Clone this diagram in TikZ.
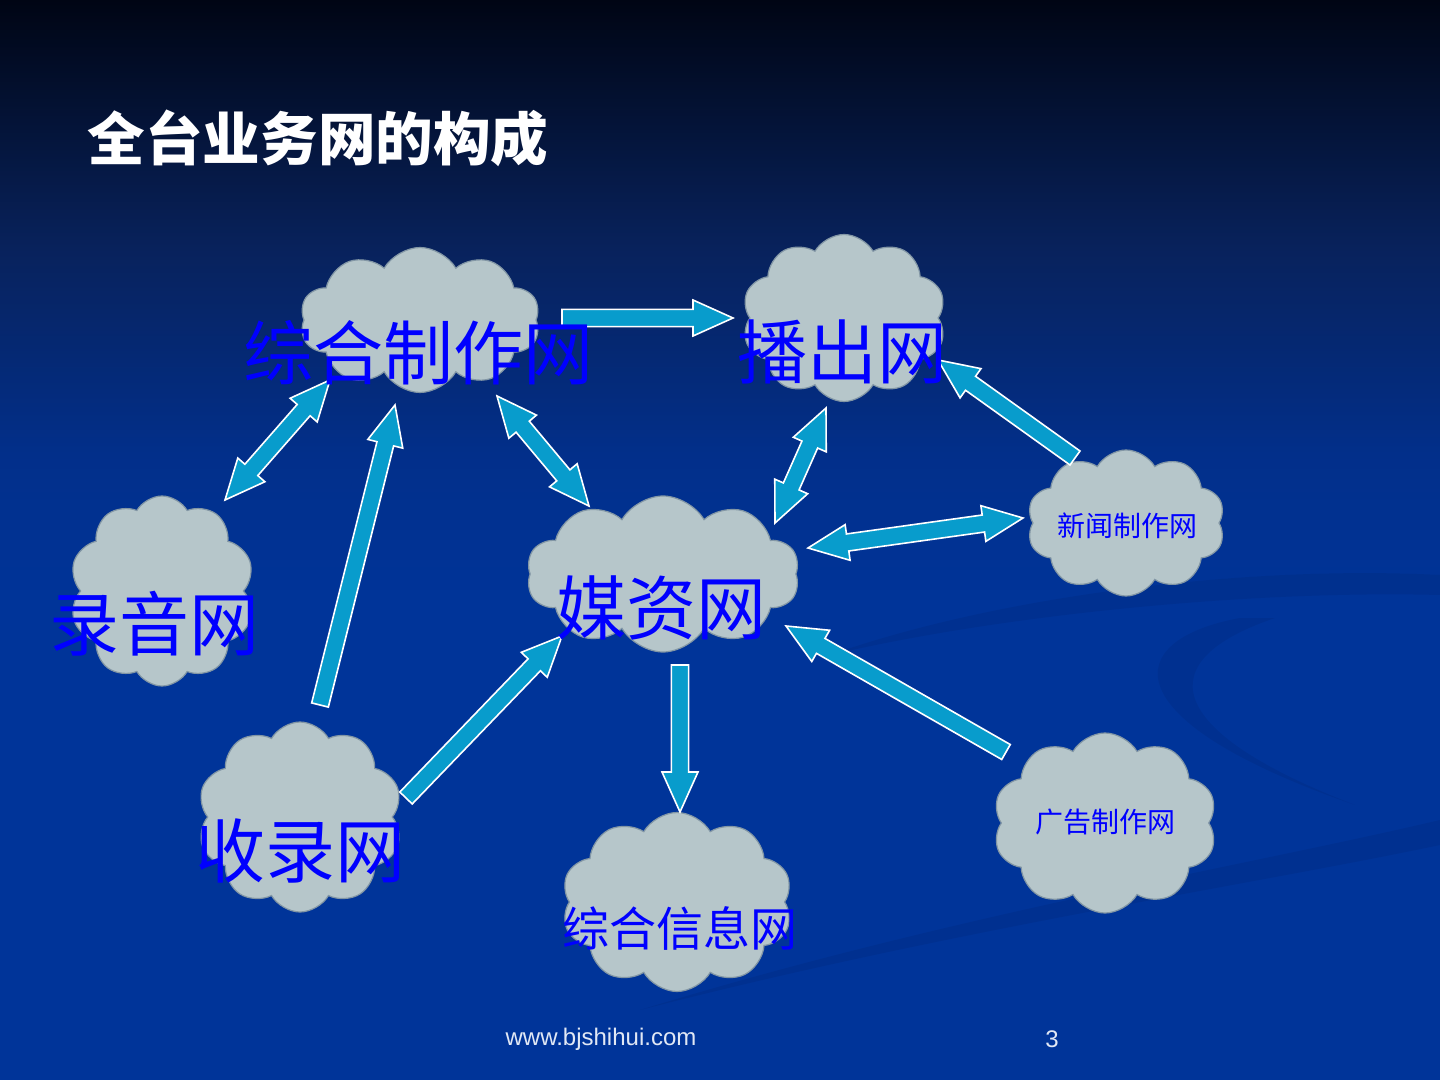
\documentclass[tikz,border=0pt]{standalone}
\usepackage{fontspec}
\setmainfont{Liberation Sans}
\newfontfamily\cjk{Noto Sans CJK SC}
\usetikzlibrary{calc,shapes.symbols}
\definecolor{bgA}{RGB}{0,5,20}
\definecolor{bgB}{RGB}{8,34,92}
\definecolor{bgC}{RGB}{2,47,138}
\definecolor{bgD}{RGB}{0,52,153}
\definecolor{cloudfill}{RGB}{182,198,202}
\definecolor{cloudline}{RGB}{130,150,165}
\definecolor{arrowblue}{RGB}{8,156,204}
\definecolor{labelblue}{RGB}{0,0,255}
\definecolor{foot}{RGB}{225,232,245}
\pgfdeclareverticalshading{slidebg}{100bp}{color(0bp)=(bgD); color(25bp)=(bgD); color(47bp)=(bgD); color(54bp)=(bgC); color(63.5bp)=(bgB); color(75bp)=(bgA); color(100bp)=(bgA)}
\def\sw{4.3pt}
\def\hw{9pt}
\def\hl{20pt}
\tikzset{
  cloudnode/.style={cloud, cloud puffs=10, cloud puff arc=120, cloud ignores aspect,
    fill=cloudfill, draw=cloudline, line width=0.6pt, inner sep=0pt},
  biglabel/.style={font=\cjk\fontsize{35}{40}\selectfont, text=labelblue, inner sep=0pt},
  midlabel/.style={font=\cjk\fontsize{23.5}{28}\selectfont, text=labelblue, inner sep=0pt},
  smalllabel/.style={font=\cjk\fontsize{14}{17}\selectfont, text=labelblue, inner sep=0pt},
  blockarrow/.style={fill=arrowblue, draw=white, line width=0.8pt, line join=miter},
  swoosh/.style={fill=black, opacity=0.06, draw=none}
}
\newcommand\onearrow[2]{%
  \path ($(#2)!\hl!(#1)$) coordinate (hb);
  \draw[blockarrow] ($(#1)!\sw!90:(#2)$) -- ($(hb)!\sw!90:(#2)$) -- ($(hb)!\hw!90:(#2)$)
    -- (#2) -- ($(hb)!\hw!-90:(#2)$) -- ($(hb)!\sw!-90:(#2)$) -- ($(#1)!\sw!-90:(#2)$) -- cycle;
}
\newcommand\twoarrow[2]{%
  \path ($(#1)!\hl!(#2)$) coordinate (ha) ($(#2)!\hl!(#1)$) coordinate (hb);
  \draw[blockarrow] (#1) -- ($(ha)!\hw!90:(#2)$) -- ($(ha)!\sw!90:(#2)$) -- ($(hb)!\sw!90:(#2)$)
    -- ($(hb)!\hw!90:(#2)$) -- (#2) -- ($(hb)!\hw!-90:(#2)$) -- ($(hb)!\sw!-90:(#2)$)
    -- ($(ha)!\sw!-90:(#2)$) -- ($(ha)!\hw!-90:(#2)$) -- cycle;
}
\begin{document}
\begin{tikzpicture}[x=0.5pt,y=-0.5pt]
\useasboundingbox (0,0) rectangle (1440,1080);
\shade[shading=slidebg] (0,0) rectangle (1440,1080);
% background swooshes
\fill[swoosh] (830,655) .. controls (1000,595) and (1250,565) .. (1440,575) -- (1440,595) .. controls (1250,590) and (1000,615) .. (830,655) -- cycle;
\fill[swoosh] (1240,618) .. controls (1120,640) and (1110,720) .. (1355,805) .. controls (1160,730) and (1150,660) .. (1275,618) -- cycle;
\fill[swoosh] (640,1010) .. controls (950,915) and (1250,865) .. (1440,820) -- (1440,845) .. controls (1250,885) and (950,930) .. (640,1010) -- cycle;
% title
\node[font=\cjk\bfseries\fontsize{28.8}{34}\selectfont, text=white, inner sep=0pt] (title) at (318,138) {全台业务网的构成};
% clouds
\node[cloudnode, minimum width=120pt, minimum height=72.5pt] (c1) at (420,320) {};
\node[cloudnode, minimum width=102pt, minimum height=83.5pt] (c2) at (844,318) {};
\node[cloudnode, minimum width=92.5pt, minimum height=95pt] (c3) at (162,591) {};
\node[cloudnode, minimum width=136.5pt, minimum height=78pt] (c4) at (663,574) {};
\node[cloudnode, minimum width=99pt, minimum height=73pt] (c5) at (1126,523) {};
\node[cloudnode, minimum width=102.5pt, minimum height=95pt] (c6) at (300,817) {};
\node[cloudnode, minimum width=115.5pt, minimum height=89.5pt] (c7) at (677,902) {};
\node[cloudnode, minimum width=112pt, minimum height=90pt] (c8) at (1105,823) {};
% arrow end points
\coordinate (a1s) at (562,318);  \coordinate (a1e) at (733,318);
\coordinate (a2s) at (330,380);  \coordinate (a2e) at (225,500);
\coordinate (a3s) at (320,705);  \coordinate (a3e) at (395,405);
\coordinate (a4s) at (497,396);  \coordinate (a4e) at (589,506);
\coordinate (a5s) at (826,408);  \coordinate (a5e) at (775,523);
\coordinate (a6s) at (1075,458); \coordinate (a6e) at (938,360);
\coordinate (a7s) at (808,548);  \coordinate (a7e) at (1023,518);
\coordinate (a8s) at (406,798);  \coordinate (a8e) at (562,636);
\coordinate (a9s) at (680,665);  \coordinate (a9e) at (680,812);
\coordinate (a10s) at (1006,752); \coordinate (a10e) at (786,626);
% arrows
\onearrow{a1s}{a1e}
\twoarrow{a2s}{a2e}
\onearrow{a3s}{a3e}
\twoarrow{a4s}{a4e}
\twoarrow{a5s}{a5e}
\onearrow{a6s}{a6e}
\twoarrow{a7s}{a7e}
\onearrow{a8s}{a8e}
\onearrow{a9s}{a9e}
\onearrow{a10s}{a10e}
% labels
\node[biglabel] (t1) at (418,353) {综合制作网};
\node[biglabel] (t2) at (842,352) {播出网};
\node[biglabel] (t3) at (154,624) {录音网};
\node[biglabel] (t4) at (661,608) {媒资网};
\node[smalllabel] (t5) at (1127,526) {新闻制作网};
\node[biglabel] (t6) at (300,851) {收录网};
\node[midlabel] (t7) at (680,928) {综合信息网};
\node[smalllabel] (t8) at (1105,822) {广告制作网};
% footer
\node[font=\fontsize{12}{14}\selectfont, text=foot, inner sep=0pt] (url) at (601,1039) {www.bjshihui.com};
\node[font=\fontsize{12}{14}\selectfont, text=foot, inner sep=0pt] (pg) at (1052,1039) {3};
\end{tikzpicture}
\end{document}
